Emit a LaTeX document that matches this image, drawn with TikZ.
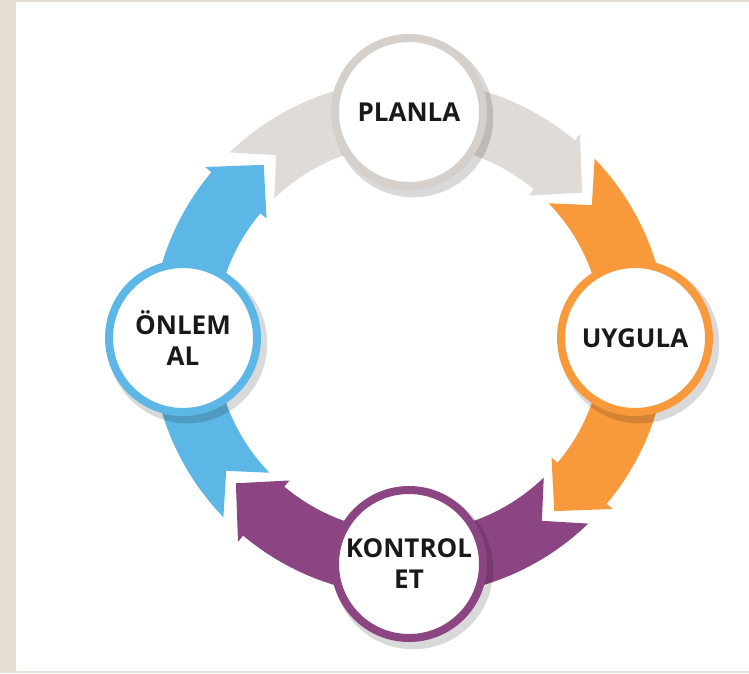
\documentclass[tikz,border=0pt]{standalone}
\usepackage{fontspec}
\setmainfont{Open Sans}
\usepackage{tikz}
\usetikzlibrary{shadows}
\usetikzlibrary{positioning}
\usetikzlibrary{calc}
\definecolor{pagebg}{HTML}{E4DED5}
\definecolor{planla}{HTML}{E1DBD7}
\definecolor{planring}{HTML}{D6D0CC}
\definecolor{uygula}{HTML}{F89A3C}
\definecolor{kontrol}{HTML}{8B4583}
\definecolor{onlem}{HTML}{5DB7E6}
\tikzstyle{stepcircle}=[circle,fill=white,draw,line width=8pt,minimum size=148pt,inner sep=0pt,align=center,text=black!90,font=\fontsize{26}{31}\selectfont\bfseries,drop shadow={shadow xshift=4pt,shadow yshift=-5pt,shadow scale=1.08,fill=black,opacity=0.15}]
\tikzstyle{band} = [draw=none]

\begin{document}
\begin{tikzpicture}[x=1pt,y=1pt]

    % page and white panel
    \useasboundingbox (0,0) rectangle (749,673);
    \fill[pagebg] (0,0) rectangle (749,673);
    \fill[white] (16,2) rectangle (749,671);

\begin{scope}[shift={(409,335)}]
    % First we draw the curved arrows (tail notch, head tip)
    \foreach \ang/\col in {90/planla, 0/uygula, -90/kontrol, 180/onlem}{
        \pgfmathsetmacro\ta{\ang+44}
        \pgfmathsetmacro\tn{\ang+36}
        \pgfmathsetmacro\hb{\ang-40}
        \pgfmathsetmacro\ht{\ang-50}
        \path[band, fill=\col] (\ta:258) arc[start angle=\ta, end angle=\hb, radius=258]
            -- (\hb:266) -- (\ht:226) -- (\hb:186) -- (\hb:194)
            arc[start angle=\hb, end angle=\ta, radius=194] -- (\tn:226) -- cycle;
    }

    % Then the step circles on top
    \foreach \pos/\name/\label/\col in {{(90:226)/planla/PLANLA/planring}, {(0:226)/uygula/UYGULA/uygula}, {(-90:226)/kontrol/KONTROL\\ET/kontrol}, {(180:226)/onlem/ÖNLEM\\AL/onlem}}
        \node[stepcircle, draw=\col] (\name) at \pos {\label};
\end{scope}

\end{tikzpicture}
\end{document}
